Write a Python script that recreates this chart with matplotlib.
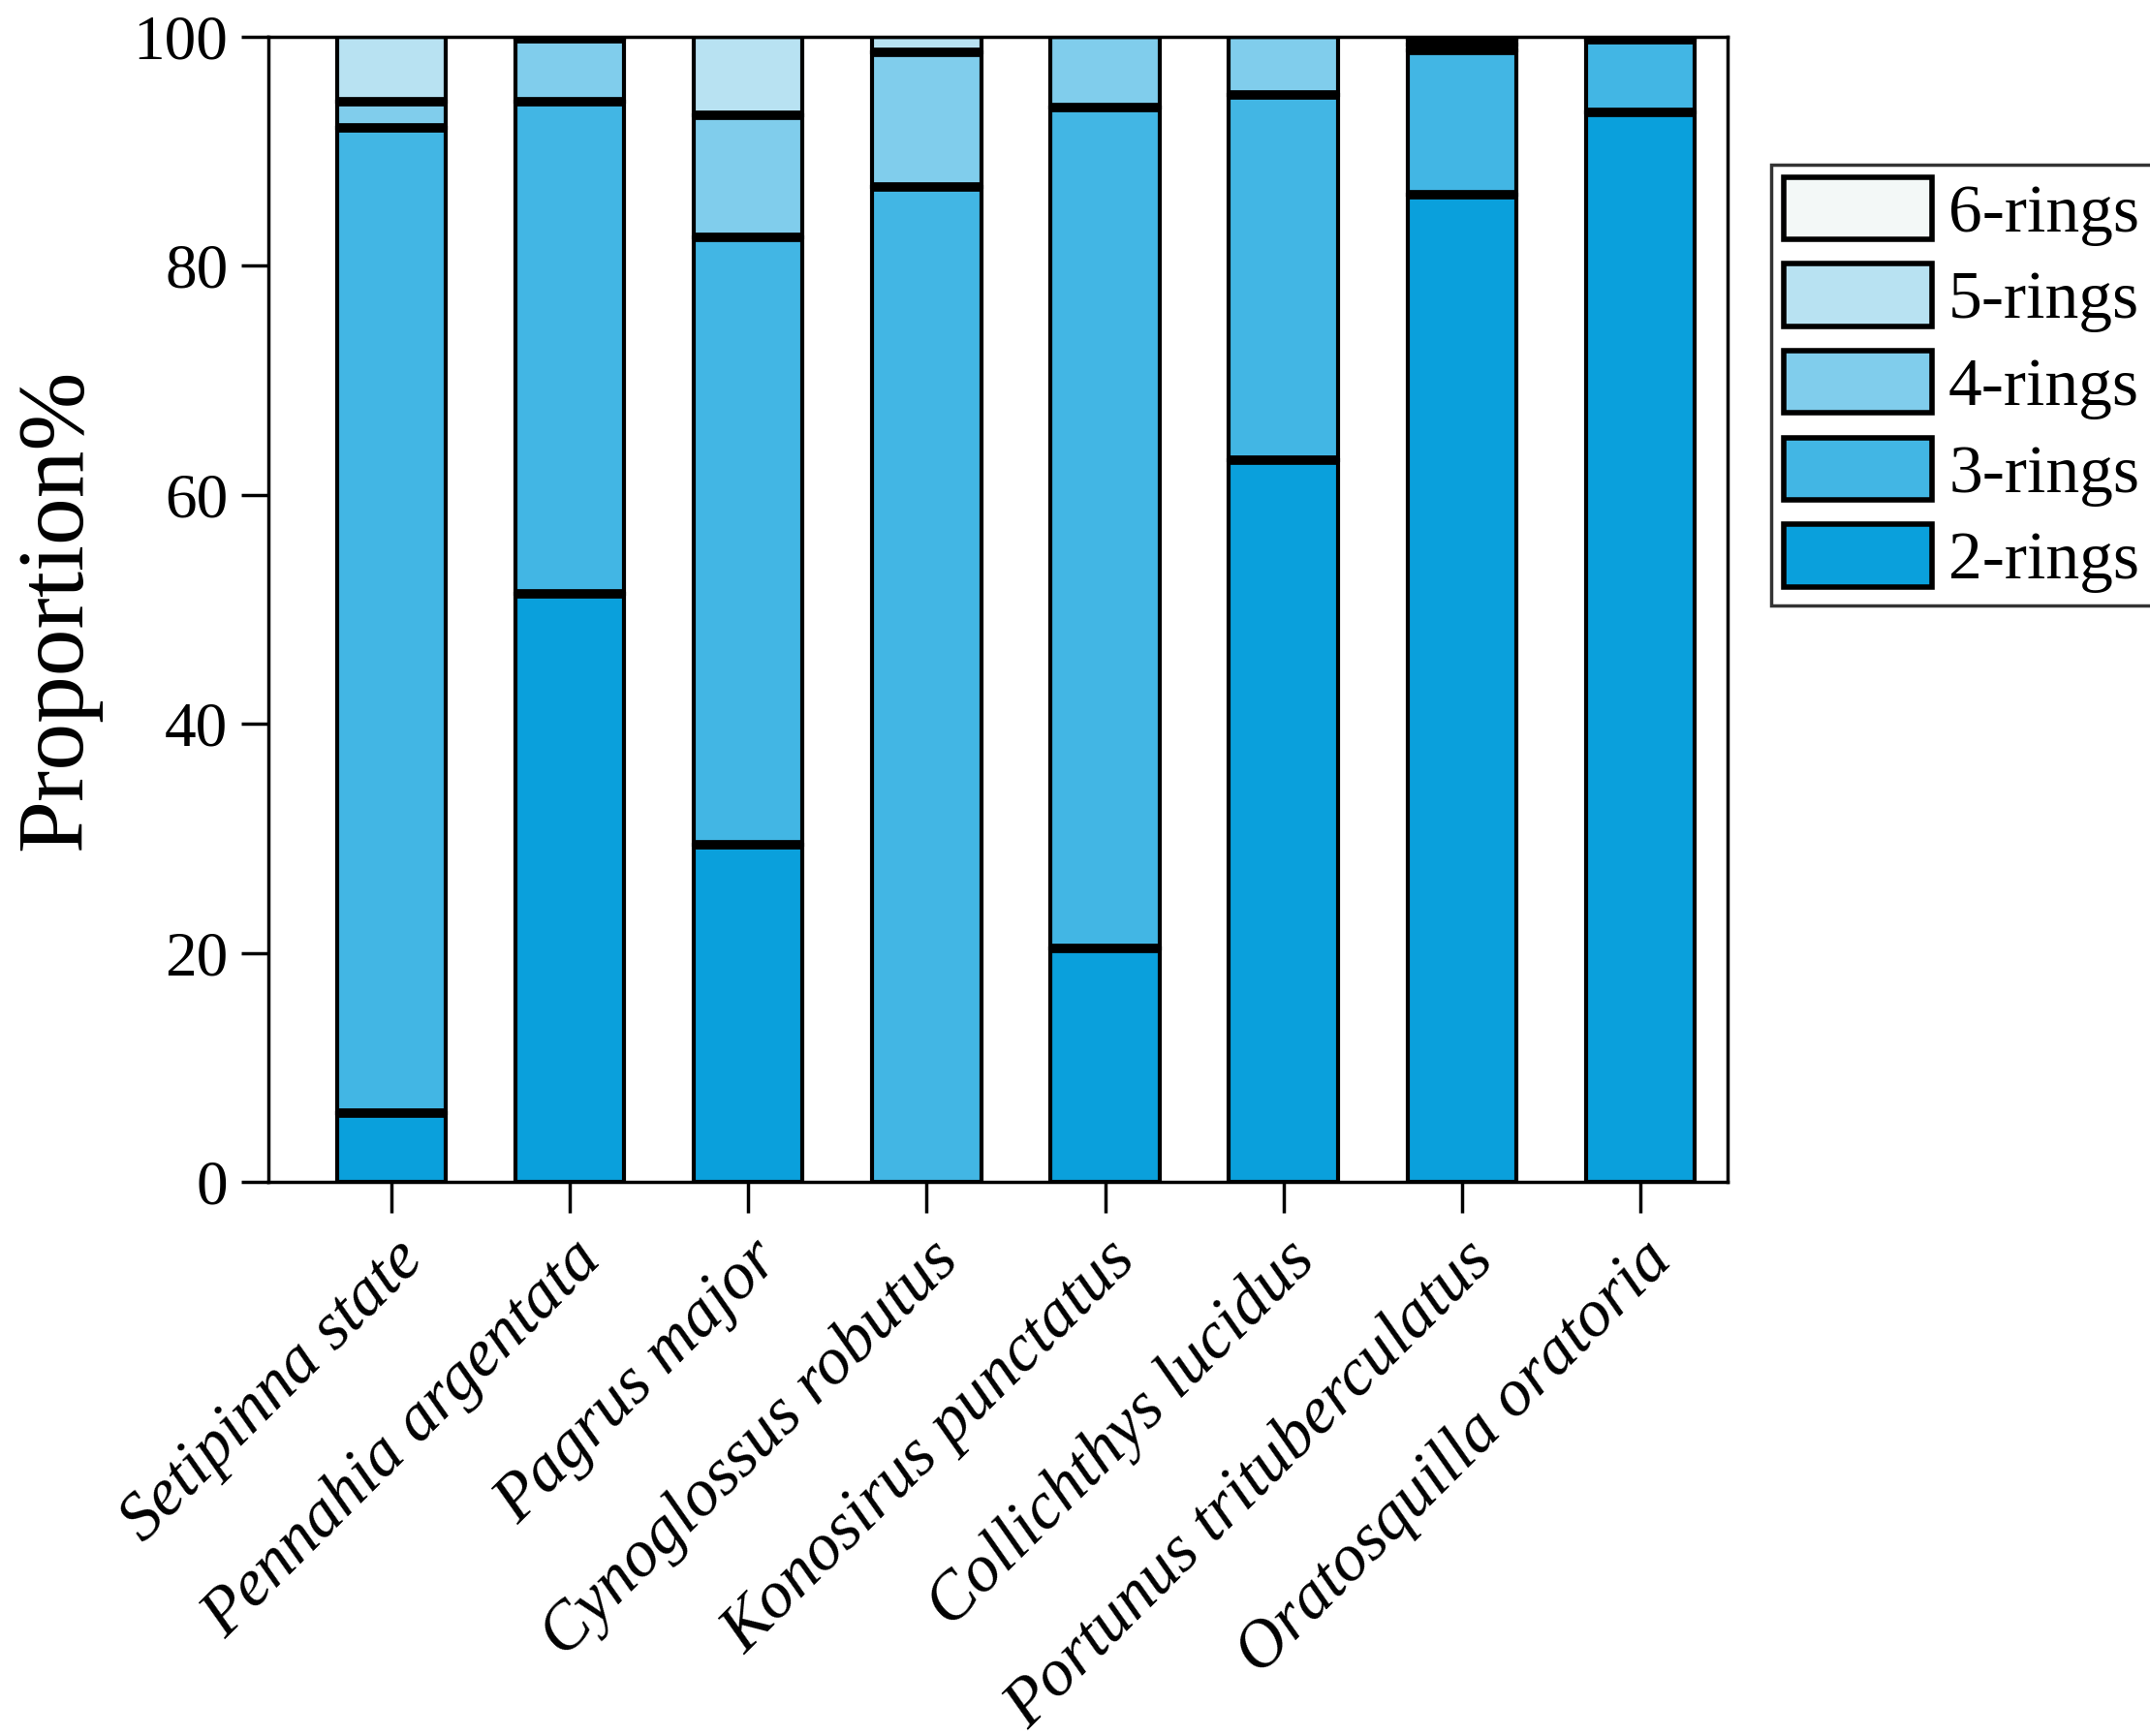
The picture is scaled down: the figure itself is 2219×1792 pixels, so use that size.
import matplotlib
matplotlib.use("Agg")
import matplotlib.pyplot as plt
import numpy as np
from matplotlib.patches import Patch

species = ["Setipinna state", "Pennahia argentata", "Pagrus major", "Cynoglossus robutus",
           "Konosirus punctatus", "Collichthys lucidus", "Portunus trituberculatus",
           "Oratosquilla oratoria"]
rings_2 = [6.0, 51.3, 29.4, 0.0, 20.4, 63.0, 86.2, 93.4]
rings_3 = [86.0, 43.0, 53.1, 86.9, 73.4, 31.9, 12.6, 6.3]
rings_4 = [2.3, 5.5, 10.6, 11.7, 6.2, 5.1, 0.5, 0.3]
rings_5 = [5.7, 0.2, 6.9, 1.4, 0.0, 0.0, 0.5, 0.0]
rings_6 = [0.0, 0.0, 0.0, 0.0, 0.0, 0.0, 0.2, 0.0]
series_labels = ["2-rings", "3-rings", "4-rings", "5-rings", "6-rings"]
colors = ["#0aa0dc", "#42b6e4", "#80cdec", "#b8e2f2", "#f3f8f7"]
yticks = [0, 20, 40, 60, 80, 100]

plt.rcParams['font.family'] = 'Liberation Serif'

fig = plt.figure(figsize=(22.19, 17.92), dpi=100)
ax = fig.add_axes([0.1249, 0.3192, 0.6786, 0.6598])

x = np.arange(len(species))
width = 0.61
series = [rings_2, rings_3, rings_4, rings_5, rings_6]
bottom = np.zeros(len(species))
for vals, col in zip(series, colors):
    v = np.array(vals)
    ax.bar(x, v, width, bottom=bottom, color=col, edgecolor='black', linewidth=3, zorder=2)
    bottom = bottom + v
    for xi, t, vv in zip(x, bottom, v):
        if vv > 0 and t < 99.9:
            ax.hlines(t, xi - width / 2, xi + width / 2, colors='black', linewidth=7, zorder=3)

ax.set_xlim(-0.69, 7.49)
ax.set_ylim(0, 100)
ax.set_yticks(yticks)
ax.set_yticklabels([str(t) for t in yticks], fontsize=47)
ax.set_xticks(x)
ax.set_xticklabels(species, rotation=45, ha='right', rotation_mode='anchor',
                   fontsize=50, style='italic')
ax.tick_params(axis='x', direction='out', length=23, width=2.5, pad=12)
ax.tick_params(axis='y', direction='out', length=20, width=2.5, pad=10)
for s in ax.spines.values():
    s.set_linewidth(2.5)
ax.set_ylabel("Proportion%", fontsize=70, labelpad=24)

handles = [Patch(facecolor=c, edgecolor='black', linewidth=4) for c in colors][::-1]
labels = series_labels[::-1]
leg = fig.legend(handles, labels, loc='upper left', bbox_to_anchor=(0.824, 0.905),
                 fontsize=50, handlelength=2.2, handleheight=1.05, labelspacing=0.27,
                 handletextpad=0.25, borderpad=0.18, borderaxespad=0, frameon=True,
                 fancybox=False, edgecolor='black')
leg.get_frame().set_linewidth(2.5)

fig.savefig("out.png", dpi=100)
